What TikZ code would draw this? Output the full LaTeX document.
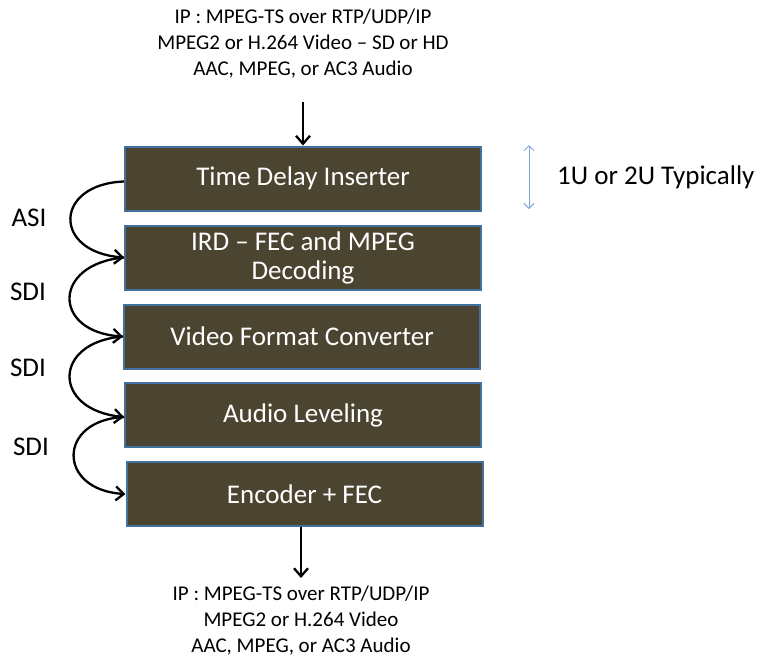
\documentclass[tikz,border=0pt]{standalone}
\usepackage{fontspec}
\setmainfont{Carlito}
\usetikzlibrary{arrows.meta}
\definecolor{boxfill}{HTML}{4B4430}
\definecolor{boxedge}{HTML}{41719C}
\definecolor{lblue}{HTML}{7FA6D6}
\begin{document}
\begin{tikzpicture}[x=1pt,y=-1pt,
  blk/.style={draw=boxedge, line width=2pt, fill=boxfill, text=white, minimum width=356pt, minimum height=64pt, inner sep=0pt, align=center, font=\fontsize{27}{29}\selectfont},
  conn/.style={line width=2.3pt, -{Straight Barb[length=8pt,width=14pt,line width=2.3pt]}},
  lbl/.style={font=\fontsize{27}{29}\selectfont, inner sep=0pt},
  info/.style={font=\fontsize{21}{26}\selectfont, align=center, inner sep=0pt}]
\useasboundingbox (0,0) rectangle (761,657);
\node[blk] (b1) at (303,178.5) {Time Delay Inserter};
\node[blk] (b2) at (303,257.5) {IRD -- FEC and MPEG\\Decoding};
\node[blk] (b3) at (302,336.5) {Video Format Converter};
\node[blk] (b4) at (303,415) {Audio Leveling};
\node[blk] (b5) at (304.5,494) {Encoder + FEC};
\node[info] (top) at (303,44) {IP : MPEG-TS over RTP/UDP/IP\\MPEG2 or H.264 Video -- SD or HD\\AAC, MPEG, or AC3 Audio};
\node[info] (bot) at (301,621) {IP : MPEG-TS over RTP/UDP/IP\\MPEG2 or H.264 Video\\AAC, MPEG, or AC3 Audio};
\coordinate (tin) at (303,102);
\coordinate (bout) at (301,578);
\draw[conn] (tin) -- (b1.north);
\draw[conn] (b5.south -| bout) -- (bout);
\draw[conn] ([yshift=-3pt]b1.west) .. controls (54,184) and (52,252) .. (b2.west);
\draw[conn] (b2.west) .. controls (52,264) and (52,332) .. (b3.west);
\draw[conn] (b3.west) .. controls (52,342) and (52,410) .. ([yshift=-2pt]b4.west);
\draw[conn] ([yshift=-2pt]b4.west) .. controls (57,420) and (57,490) .. (b5.west);
\node[lbl] (l1) at (29,218) {ASI};
\node[lbl] (l2) at (28,292) {SDI};
\node[lbl] (l3) at (28,368) {SDI};
\node[lbl] (l4) at (31,447) {SDI};
\coordinate (ua) at (529,145);
\coordinate (ub) at (529,209);
\draw[lblue, line width=1pt, {Straight Barb[length=5pt,width=10pt]}-{Straight Barb[length=5pt,width=10pt]}] (ua) -- (ub);
\node[lbl, anchor=west] (typ) at (557,177) {1U or 2U Typically};
\end{tikzpicture}
\end{document}
